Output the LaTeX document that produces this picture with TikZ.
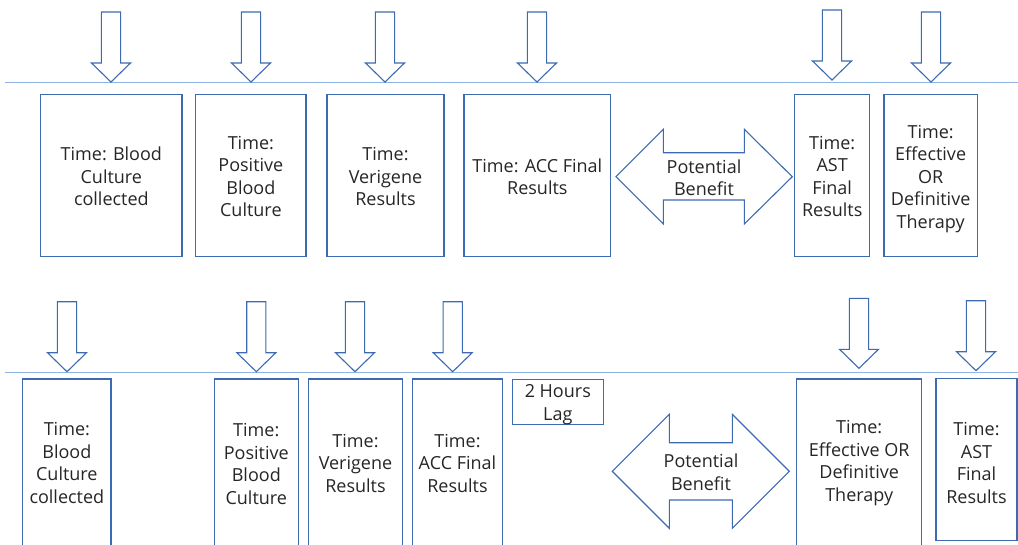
\documentclass[tikz,border=0pt]{standalone}
\usepackage{fontspec}
\setmainfont{Open Sans}
\definecolor{boxblue}{HTML}{3D6AB0}
\definecolor{lineblue}{HTML}{8EB4E3}
\definecolor{txt}{HTML}{262626}
\begin{document}
\begin{tikzpicture}[x=1pt,y=-1pt,
  shp/.style={draw=boxblue,line width=1.1pt,fill=white,line join=miter},
  tbox/.style={shp,rectangle,inner sep=0pt},
  lbl/.style={inner sep=0pt,align=center,text=txt,font=\fontsize{18}{22.5}\selectfont},
  tline/.style={draw=lineblue,line width=1.3pt},
  darrow/.pic={\draw[shp] (-9.6,0) -- (-9.6,51) -- (-19.5,51) -- (0,70) -- (19.5,51)
     -- (9.6,51) -- (9.6,0) -- cycle;}]
\useasboundingbox (0,0) rectangle (1018,544);
\clip (0,0) rectangle (1018,544);
\fill[white] (0,0) rectangle (1018,544);

% ---------- top row ----------
\coordinate (l1a) at (5,82.5);
\coordinate (l1b) at (1018,82.5);
\draw[tline] (l1a) -- (l1b);

\pic at (111,12) {darrow};
\pic at (251,12) {darrow};
\pic at (385,12) {darrow};
\pic at (537,12) {darrow};
\pic at (832,10) {darrow};
\pic at (931,12) {darrow};

\node[tbox,minimum width=141.3pt,minimum height=161.7pt] (t1) at (111.35,175.2) {};
\node[tbox,minimum width=110.3pt,minimum height=161.7pt] (t2) at (250.85,175.2) {};
\node[tbox,minimum width=117pt,minimum height=161.7pt] (t3) at (385.5,175.2) {};
\node[tbox,minimum width=146.7pt,minimum height=161.7pt] (t4) at (537.35,175.2) {};
\node[tbox,minimum width=75pt,minimum height=161.7pt] (t5) at (832.2,175.2) {};
\node[tbox,minimum width=93.3pt,minimum height=161.7pt] (t6) at (930.65,175.2) {};

\node[lbl] (t1t) at ([yshift=-1.5pt]t1.center) {Time: Blood\\Culture\\collected};
\node[lbl] (t2t) at ([yshift=-1.5pt]t2.center) {Time:\\Positive\\Blood\\Culture};
\node[lbl] (t3t) at ([yshift=-1.5pt]t3.center) {Time:\\Verigene\\Results};
\node[lbl] (t4t) at ([yshift=-1.5pt]t4.center) {Time: ACC Final\\Results};
\node[lbl] (t5t) at ([yshift=-1.5pt]t5.center) {Time:\\AST\\Final\\Results};
\node[lbl] (t6t) at ([yshift=-3.5pt]t6.center) {Time:\\Effective\\OR\\Definitive\\Therapy};

\draw[shp] (616,176.7) -- (663.3,129.3) -- (663.3,152.7) -- (744.3,152.7) -- (744.3,129.3)
  -- (792.3,176.7) -- (744.3,224) -- (744.3,200) -- (663.3,200) -- (663.3,224) -- cycle;
\node[lbl] (pb1) at (704,177.5) {Potential\\Benefit};

% ---------- bottom row ----------
\coordinate (l2a) at (5,372.5);
\coordinate (l2b) at (1018,372.5);
\draw[tline] (l2a) -- (l2b);

\pic at (67,301.7) {darrow};
\pic at (256.3,301.7) {darrow};
\pic at (355,301.7) {darrow};
\pic at (452.7,301.7) {darrow};
\pic at (859,298.3) {darrow};
\pic at (976,300.7) {darrow};

\node[tbox,minimum width=88.3pt,minimum height=168pt] (b1) at (66.85,463) {};
\node[tbox,minimum width=84pt,minimum height=168pt] (b2) at (256.3,463) {};
\node[tbox,minimum width=94.4pt,minimum height=168pt] (b3) at (355.5,463) {};
\node[tbox,minimum width=90.4pt,minimum height=168pt] (b4) at (457.5,463) {};
\node[tbox,minimum width=91pt,minimum height=45pt] (lag) at (557.8,401.8) {};
\node[tbox,minimum width=125pt,minimum height=168pt] (b5) at (859.2,463) {};
\node[tbox,minimum width=81pt,minimum height=161.3pt] (b6) at (976.5,459.4) {};

\node[lbl] (b1t) at (b1.center) {Time:\\Blood\\Culture\\collected};
\node[lbl] (b2t) at ([yshift=-1pt]b2.center) {Time:\\Positive\\Blood\\Culture};
\node[lbl] (b3t) at (b3.center) {Time:\\Verigene\\Results};
\node[lbl] (b4t) at (b4.center) {Time:\\ACC Final\\Results};
\node[lbl] (lagt) at ([yshift=-3pt]lag.center) {2 Hours\\Lag};
\node[lbl] (b5t) at (b5.center) {Time:\\Effective OR\\Definitive\\Therapy};
\node[lbl] (b6t) at (976.5,463) {Time:\\AST\\Final\\Results};

\draw[shp] (612.3,471.3) -- (669.3,414.3) -- (669.3,442.7) -- (732.3,442.7) -- (732.3,414.3)
  -- (789.3,471.3) -- (732.3,528.3) -- (732.3,500) -- (669.3,500) -- (669.3,528.3) -- cycle;
\node[lbl] (pb2) at (701,472) {Potential\\Benefit};
\end{tikzpicture}
\end{document}
